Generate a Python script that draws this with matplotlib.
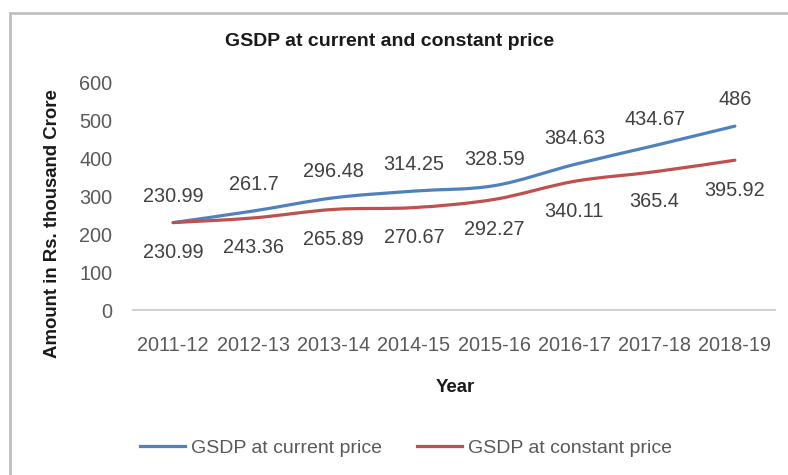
import numpy as np
import matplotlib
matplotlib.use("Agg")
import matplotlib.pyplot as plt
from matplotlib.path import Path
from matplotlib.patches import PathPatch, Rectangle
from matplotlib.lines import Line2D

years = ["2011-12", "2012-13", "2013-14", "2014-15", "2015-16", "2016-17", "2017-18", "2018-19"]
current_price = [230.99, 261.7, 296.48, 314.25, 328.59, 384.63, 434.67, 486]
constant_price = [230.99, 243.36, 265.89, 270.67, 292.27, 340.11, 365.4, 395.92]
y_ticks = [0, 100, 200, 300, 400, 500, 600]

BLUE = "#4F81BD"
RED = "#C0504D"
TEXT = "#595959"
LABEL = "#404040"
FS = 14.3

plt.rcParams["font.family"] = ["Liberation Sans", "DejaVu Sans"]

fig = plt.figure(figsize=(7.88, 4.75), dpi=100)
ax = fig.add_axes([133 / 788, 1 - 310 / 475, (775 - 133) / 788, (310 - 83) / 475])


def smooth_path(xs, ys, tension=1 / 6):
    """Cubic Bezier path through the points (Catmull-Rom style control points)."""
    pts = np.column_stack([xs, ys]).astype(float)
    verts = [pts[0]]
    codes = [Path.MOVETO]
    n = len(pts)
    for i in range(n - 1):
        p0 = pts[i - 1] if i > 0 else pts[i]
        p1 = pts[i]
        p2 = pts[i + 1]
        p3 = pts[i + 2] if i + 2 < n else pts[i + 1]
        c1 = p1 + (p2 - p0) * tension
        c2 = p2 - (p3 - p1) * tension
        verts += [c1, c2, p2]
        codes += [Path.CURVE4] * 3
    return Path(verts, codes)


x = np.arange(len(years))
for vals, col in [(current_price, BLUE), (constant_price, RED)]:
    ax.add_patch(PathPatch(smooth_path(x, vals), facecolor="none", edgecolor=col,
                           lw=2.3, capstyle="round", joinstyle="round", zorder=3))

for xi, v in zip(x, current_price):
    ax.annotate(f"{v:g}", (xi, v), xytext=(0, 19), textcoords="offset points",
                ha="center", va="center", fontsize=FS, color=LABEL)
for xi, v in zip(x, constant_price):
    ax.annotate(f"{v:g}", (xi, v), xytext=(0, -21.5), textcoords="offset points",
                ha="center", va="center", fontsize=FS, color=LABEL)

ax.set_xlim(-0.5, len(years) - 0.5)
ax.set_ylim(0, 600)
ax.set_xticks(x)
ax.set_xticklabels(years)
ax.set_yticks(y_ticks)
ax.tick_params(axis="x", length=0, pad=19, labelsize=FS, labelcolor=TEXT)
ax.tick_params(axis="y", length=0, pad=15, labelsize=FS, labelcolor=TEXT)
for s in ["top", "right", "left"]:
    ax.spines[s].set_visible(False)
ax.spines["bottom"].set_color("#D0D0D0")
ax.spines["bottom"].set_linewidth(1.5)

fig.text(390 / 788, 1 - 42 / 475, "GSDP at current and constant price", ha="center",
         va="center", fontsize=14, fontweight="bold", color="#1A1A1A")
fig.text(53 / 788, 1 - 224 / 475, "Amount in Rs. thousand Crore", ha="center",
         va="center", rotation=90, fontsize=13.4, fontweight="bold", color="#1A1A1A")
fig.text(455 / 788, 1 - 388 / 475, "Year", ha="center", va="center",
         fontsize=13.4, fontweight="bold", color="#1A1A1A")

handles = [Line2D([], [], color=BLUE, lw=2.3), Line2D([], [], color=RED, lw=2.3)]
fig.legend(handles, ["GSDP at current price", "GSDP at constant price"],
           loc="center", bbox_to_anchor=(406 / 788, 1 - 448 / 475), ncol=2,
           frameon=False, fontsize=14, labelcolor=TEXT, handlelength=2.3,
           handletextpad=0.3, columnspacing=1.8)

fig.add_artist(Rectangle((10 / 788, -0.05), 1.1, 1 - 13 / 475 + 0.05,
                         transform=fig.transFigure, fill=False,
                         edgecolor="#BFBFBF", lw=2.0))

fig.savefig("out.png", dpi=100)
